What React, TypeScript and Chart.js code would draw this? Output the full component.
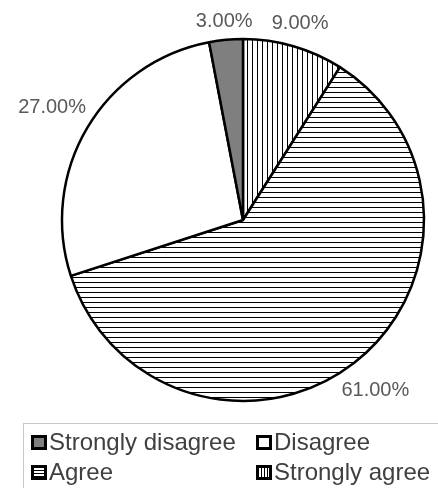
import { useEffect, useRef } from "react";
import { Chart, ArcElement, PieController } from "chart.js";

Chart.register(ArcElement, PieController);

// Survey answers, in legend order
const categories = ["Strongly disagree", "Disagree", "Agree", "Strongly agree"];
const shares = [3, 27, 61, 9];

type FillKind = "solid" | "blank" | "hlines" | "vlines";
const fillKinds: FillKind[] = ["solid", "blank", "hlines", "vlines"];

const FONT = '"Liberation Sans", Arial, sans-serif';

function stripePattern(dir: "h" | "v"): CanvasPattern {
  const c = document.createElement("canvas");
  c.width = 5;
  c.height = 5;
  const g = c.getContext("2d")!;
  g.fillStyle = "#ffffff";
  g.fillRect(0, 0, 5, 5);
  g.fillStyle = "#000000";
  if (dir === "h") g.fillRect(0, 2, 5, 1);
  else g.fillRect(2, 0, 1, 5);
  return g.createPattern(c, "repeat")!;
}

function fillFor(kind: FillKind): string | CanvasPattern {
  if (kind === "solid") return "#7f7f7f";
  if (kind === "blank") return "#ffffff";
  return stripePattern(kind === "hlines" ? "h" : "v");
}

// Percentage labels placed just outside each slice
const percentLabels = {
  id: "percentLabels",
  afterDatasetsDraw(chart: any) {
    const ctx: CanvasRenderingContext2D = chart.ctx;
    const meta = chart.getDatasetMeta(0);
    const values = chart.data.datasets[0].data as number[];
    ctx.save();
    ctx.font = `20px ${FONT}`;
    ctx.fillStyle = "#595959";
    ctx.textAlign = "center";
    ctx.textBaseline = "middle";
    meta.data.forEach((arc: any, i: number) => {
      const { x, y, startAngle, endAngle, outerRadius } = arc.getProps(
        ["x", "y", "startAngle", "endAngle", "outerRadius"],
        true
      );
      const mid = (startAngle + endAngle) / 2;
      const text = values[i].toFixed(2) + "%";
      const w = ctx.measureText(text).width;
      const h = 18;
      const cx = Math.cos(mid);
      const sy = Math.sin(mid);
      const d = outerRadius + 7 + Math.abs(cx) * (w / 2) + Math.abs(sy) * (h / 2);
      ctx.fillText(text, x + cx * d, y + sy * d);
    });
    ctx.restore();
  },
};

function LegendSwatch({ kind }: { kind: FillKind }) {
  let background = "#ffffff";
  if (kind === "solid") background = "#7f7f7f";
  if (kind === "hlines")
    background = "repeating-linear-gradient(to bottom, #fff 0 2px, #000 2px 3px)";
  if (kind === "vlines")
    background = "repeating-linear-gradient(to right, #fff 0 2px, #000 2px 3px)";
  return (
    <div
      style={{
        width: 16,
        height: 15,
        boxSizing: "border-box",
        border: "3.5px solid #000",
        background,
        marginRight: 2,
        flex: "0 0 auto",
      }}
    />
  );
}

export default function App() {
  const canvasRef = useRef<HTMLCanvasElement | null>(null);

  useEffect(() => {
    const canvas = canvasRef.current;
    if (!canvas) return;
    // Slices run clockwise from 12 o'clock in reverse legend order
    const order = categories.map((_, i) => categories.length - 1 - i);
    const chart = new Chart(canvas, {
      type: "pie",
      data: {
        labels: order.map((i) => categories[i]),
        datasets: [
          {
            data: order.map((i) => shares[i]),
            backgroundColor: order.map((i) => fillFor(fillKinds[i])),
            borderColor: "#000000",
            borderWidth: 2.5,
          },
        ],
      },
      options: {
        animation: false,
        responsive: false,
        radius: 181,
        layout: { padding: { left: 48, top: 0, right: 0, bottom: 0 } },
        plugins: {
          legend: { display: false },
          tooltip: { enabled: false },
        } as any,
      },
      plugins: [percentLabels],
    });
    return () => chart.destroy();
  }, []);

  return (
    <div
      style={{
        position: "fixed",
        left: 0,
        top: 0,
        width: 438,
        height: 488,
        overflow: "hidden",
        background: "#ffffff",
      }}
    >
      <canvas
        ref={canvasRef}
        width={438}
        height={440}
        style={{ position: "absolute", left: 0, top: 0, width: 438, height: 440 }}
      />
      <div
        style={{
          position: "absolute",
          left: 23,
          top: 423,
          width: 440,
          height: 90,
          border: "1px solid #c8c8c8",
          boxSizing: "border-box",
          display: "grid",
          gridTemplateColumns: "225px auto",
          gridAutoRows: "30px",
          paddingLeft: 7,
          paddingTop: 3,
          fontFamily: FONT,
          fontSize: 24,
          color: "#404040",
        }}
      >
        {categories.map((name, i) => (
          <div
            key={name}
            style={{ display: "flex", alignItems: "center", whiteSpace: "nowrap", lineHeight: "30px" }}
          >
            <LegendSwatch kind={fillKinds[i]} />
            <span>{name}</span>
          </div>
        ))}
      </div>
    </div>
  );
}
